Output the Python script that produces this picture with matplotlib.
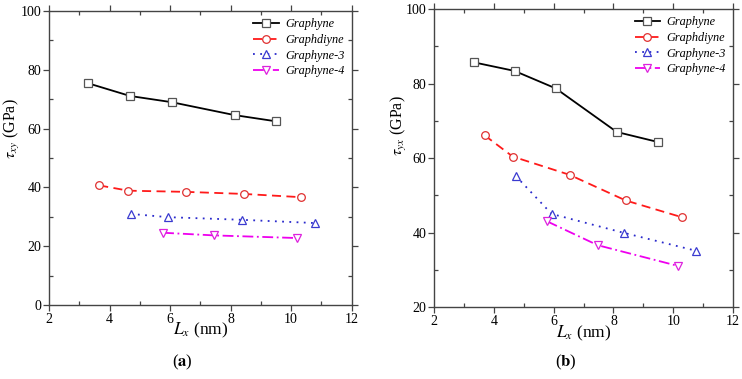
import matplotlib
matplotlib.use("Agg")
import matplotlib.pyplot as plt
from matplotlib.ticker import MultipleLocator

plt.rcParams['font.family'] = ['Liberation Serif', 'DejaVu Serif']
plt.rcParams['mathtext.fontset'] = 'stix'

names = ['Graphyne', 'Graphdiyne', 'Graphyne-3', 'Graphyne-4']

# panel (a): tau_xy
a_x = [[3.30, 4.68, 6.05, 8.13, 9.49],
       [3.66, 4.62, 6.52, 8.43, 10.31],
       [4.70, 5.93, 8.37, 10.78],
       [5.77, 7.45, 10.20]]
a_y = [[75.4, 71.1, 69.0, 64.6, 62.5],
       [40.7, 38.9, 38.5, 37.8, 36.7],
       [31.0, 29.9, 29.0, 27.9],
       [24.6, 23.7, 22.8]]

# panel (b): tau_yx
b_x = [[3.33, 4.69, 6.07, 8.11, 9.49],
       [3.69, 4.63, 6.53, 8.41, 10.29],
       [4.73, 5.93, 8.35, 10.76],
       [5.78, 7.47, 10.17]]
b_y = [[85.7, 83.4, 78.7, 67.0, 64.3],
       [66.1, 60.4, 55.5, 48.6, 44.1],
       [55.2, 45.0, 39.9, 35.1],
       [43.0, 36.6, 31.0]]

colors = ['black', '#ff1a1a', '#2a2acc', '#ee00ee']
markers = ['s', 'o', '^', 'v']
styles = ['-', (0, (5, 3)), (0, (1, 3)), (0, (6, 2, 1, 2))]
edge = ['#555555', '#e03030', '#3a3ad0', '#dd22dd']

fig = plt.figure(figsize=(7.42, 3.79), dpi=100)
ax1 = fig.add_axes([0.066, 0.195, 0.408, 0.776])
ax2 = fig.add_axes([0.585, 0.19, 0.403, 0.786])


def draw(ax, xs, ys, ylim, ylabel, ylab_pos):
    for i in range(4):
        ax.plot(xs[i], ys[i], linestyle=styles[i], color=colors[i], lw=1.3,
                marker=markers[i], ms=5.5, mfc='white', mec=edge[i], mew=0.9,
                label=names[i])
    ax.set_xlim(2, 12)
    ax.set_ylim(*ylim)
    ax.xaxis.set_major_locator(MultipleLocator(2))
    ax.xaxis.set_minor_locator(MultipleLocator(1))
    ax.yaxis.set_major_locator(MultipleLocator(20))
    ax.yaxis.set_minor_locator(MultipleLocator(10))
    ax.tick_params(which='major', direction='out', length=4, width=0.9,
                   top=True, right=True, labelsize=10, pad=1.5, color='#444444')
    ax.tick_params(which='minor', direction='in', length=3, width=0.9,
                   top=True, right=True, color='#444444')
    for s in ax.spines.values():
        s.set_color('#444444')
        s.set_linewidth(1.0)
    ax.set_xlabel(r'$L_x$ (nm)', fontsize=12.5)
    ax.xaxis.set_label_coords(0.5, -0.055)
    ax.set_ylabel(ylabel, fontsize=11.5)
    ax.yaxis.set_label_coords(*ylab_pos)
    ax.legend(loc='upper right', frameon=False, handlelength=2.1,
              handletextpad=0.5, labelspacing=0.3, borderaxespad=0.2,
              prop={'style': 'italic', 'size': 8.8})


draw(ax1, a_x, a_y, (0, 100), r'$\tau_{xy}$ (GPa)', (-0.088, 0.6))
draw(ax2, b_x, b_y, (20, 100), r'$\tau_{yx}$ (GPa)', (-0.085, 0.61))

fig.text(0.246, 0.032, r'($\mathbf{a}$)', ha='center', fontsize=12)
fig.text(0.762, 0.032, r'($\mathbf{b}$)', ha='center', fontsize=12)

fig.savefig('out.png', dpi=100)
